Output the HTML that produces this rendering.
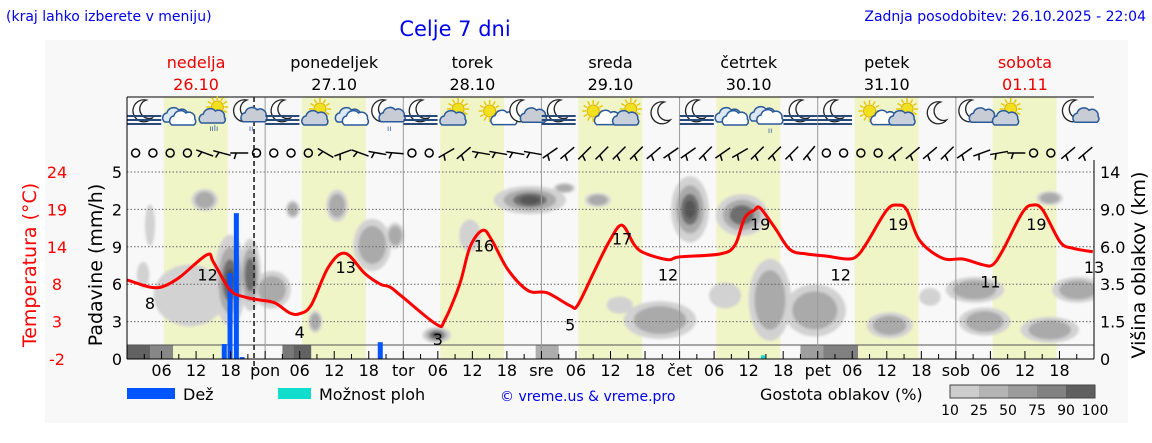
<!DOCTYPE html>
<html><head><meta charset="utf-8">
<style>
body{margin:0;width:1152px;height:443px;background:#fff;overflow:hidden;font-family:"Liberation Sans","DejaVu Sans",sans-serif}
svg{display:block}
text{font-family:"DejaVu Sans","Liberation Sans",sans-serif}
</style></head><body>
<svg id="c" width="1152" height="443" xmlns="http://www.w3.org/2000/svg">
<defs>
<filter id="bl" x="-50%" y="-50%" width="200%" height="200%"><feGaussianBlur stdDeviation="1.2"/></filter>
<clipPath id="pc"><rect x="127" y="160" width="967" height="185"/></clipPath>
<clipPath id="sc"><rect x="127" y="345" width="967" height="14"/></clipPath>
</defs>
<rect x="45" y="40" width="1083" height="383" fill="#f8f8f8"/>
<text x="6" y="21" font-size="14" fill="#0000ee">(kraj lahko izberete v meniju)</text>
<text x="455" y="36" font-size="21" fill="#0000ee" text-anchor="middle">Celje 7 dni</text>
<text x="1146" y="21" font-size="14" fill="#0000ee" text-anchor="end">Zadnja posodobitev: 26.10.2025 - 22:04</text>
<g id="bands"></g><g id="clouds" clip-path="url(#pc)" filter="url(#bl)"></g><g id="lowc" clip-path="url(#sc)"></g>
<g id="grid"></g><g id="icons"></g><g id="wind"></g><g id="bars"></g><g id="temp"></g><g id="axes"></g>
<text transform="translate(36,265) rotate(-90)" font-size="19" fill="#ff0000" text-anchor="middle">Temperatura (°C)</text>
<text transform="translate(102,265) rotate(-90)" font-size="19" fill="#000" text-anchor="middle">Padavine (mm/h)</text>
<text transform="translate(1145,265) rotate(-90)" font-size="19" fill="#000" text-anchor="middle">Višina oblakov (km)</text>
<g>
<rect x="127" y="388" width="48" height="11" fill="#0055ff"/>
<text x="183" y="400" font-size="16">Dež</text>
<rect x="278" y="388" width="33" height="11" fill="#11ddcc"/>
<text x="319" y="400" font-size="16">Možnost ploh</text>
<text x="500" y="401" font-size="14" fill="#0000ee">© vreme.us &amp; vreme.pro</text>
<text x="760" y="400" font-size="16">Gostota oblakov (%)</text>
<g id="dens"></g>
</g>
</svg>
<script>
const NS="http://www.w3.org/2000/svg";
const X0=127,X1=1094,HOURS=168;
const x=h=>X0+h*(X1-X0)/HOURS;
const yT=t=>359-(t+2)*187/26;
const yR=r=>359-r*37.4;
function el(tag,a,p){const e=document.createElementNS(NS,tag);for(const k in a)e.setAttribute(k,a[k]);(p||document.getElementById('c')).appendChild(e);return e;}
const G=id=>document.getElementById(id);

const dayNames=["nedelja","ponedeljek","torek","sreda","četrtek","petek","sobota"];
const dayDates=["26.10","27.10","28.10","29.10","30.10","31.10","01.11"];
const dayShort=["pon","tor","sre","čet","pet","sob"];
const sunrise=6.4,sunset=17.5;
const leftTicks=["5","2","9","6","3","0"];
const tempTicks=["24","19","14","8","3","-2"];
const rightTicks=["14","9.0","6.0","3.5","1.5","0"];
const tempHours=[0,4,6.3,9.2,13.9,15,17.9,20.5,23.1,25.7,28.3,30,32,35,37.9,41.3,44,45.7,47.9,53.8,55.2,57.8,59.6,61.8,63.4,66.2,69.7,73,77,78.3,81.3,83.9,86,88.2,90,94,96,103,105.6,107.3,109,110,112.6,115.2,118.1,121.6,125.1,126.8,128.5,132,133.9,135.5,137.7,141.7,145.2,148.7,150.4,152.2,155.6,157.4,159.1,162.1,164.3,167.8];
const tempVals=[9.0,8.0,8.1,9.4,12.5,11.5,7.6,6.6,6.2,5.8,4.4,4.3,5.5,10.8,12.7,9.9,8.4,8.0,6.6,2.8,3.4,8.4,13.6,15.9,14.5,10.4,7.5,7.2,5.4,5.5,10.4,14.5,16.6,13.8,12.7,11.8,12.2,12.6,13.8,17.6,18.7,19.0,16.2,13.2,12.6,12.3,11.9,12.3,14.1,18.7,19.4,18.7,14.5,12.0,11.9,11.1,11.1,13.2,18.4,19.4,18.7,14.3,13.4,12.9];
const lblHours=[4,14,30,38,54,62,77,86,94,110,124,134,150,158,168];
const lblVals=[8,12,4,13,3,16,5,17,12,19,12,19,11,19,13];
const rainHours=[16.9,17.9,19.0,20.0,44.0];
const rainVals=[0.4,2.3,3.9,0.05,0.45];
const showerHours=[110.5];
const showerVals=[0.1];
// cloud blobs: hour, height-slot, half-width (h), half-height (slots), density 0..1
const cloudH=[2.8,4.0,13.5,10.9,17.9,21.4,25.2,28.8,36.5,42.6,32.7,53.8,46.6,59.6,70,76,81.8,97.8,106.8,92.6,85.6,111.7,103.9,119.5,132.5,147.3,149,160.3,165.2,160.3,139.5];
const cloudS=[2.25,3.58,4.25,1.7,2.1,2.25,1.85,4.0,4.1,3.05,1.0,0.64,3.3,3.3,4.25,4.57,4.25,4.0,3.85,1.04,1.44,1.58,1.7,1.3,0.9,1.85,1.0,0.78,1.85,4.3,1.66];
const cloudW=[0.9,0.7,2.1,6.1,2.6,1.7,3.1,1.0,1.7,3.1,1.0,2.3,1.4,1.7,6.1,1.7,2.1,3.1,4.3,6.1,2.1,3.5,2.6,5.2,3.8,4.9,4.3,4.9,4.3,2.1,1.7];
const cloudHt=[0.32,0.53,0.27,0.8,1.2,0.94,0.48,0.21,0.4,0.67,0.27,0.19,0.32,0.4,0.35,0.11,0.16,0.86,0.53,0.48,0.2,1.07,0.32,0.67,0.32,0.32,0.35,0.32,0.32,0.16,0.21];
const cloudD=[0.3,0.35,0.5,0.35,0.85,0.75,0.4,0.5,0.5,0.6,0.45,0.85,0.5,0.3,0.8,0.4,0.45,0.8,0.75,0.45,0.3,0.5,0.35,0.45,0.45,0.55,0.45,0.45,0.55,0.5,0.3];
const lowH=[0,4,27,29,71,117,121];
const lowW=[4,4,3,3,4,6,6];
const lowD=[0.85,0.6,0.7,0.85,0.35,0.45,0.65];
const iconType=["fm","c","sr","mr","fm","sc","c","mr","fm","sc","s","mc","fm","s","sc","m","fm","c","cr","fm","fm","s","sc","m","mc","sc","n","mc"];
const windAng=[null,null,null,null,20,15,0,null,null,null,null,30,-20,20,10,5,null,null,-30,-40,10,10,10,10,-35,-40,-45,-45,-45,-45,-40,-35,-35,-45,-35,-30,-45,-45,-45,-50,null,null,null,null,-40,-40,-40,-45,-35,-20,-10,0,null,null,-40,-40];

for(let d=0;d<7;d++){
 const r=el('rect',{x:x(d*24+sunrise),y:97,width:x(sunset)-x(sunrise),height:262,fill:"#f0f5c8"},G('bands'));
 
 const cx=x(d*24+12);
 const t=el('text',{x:cx,y:68,"font-size":16,"text-anchor":"middle",fill:(d==0||d==6)?"#ee0000":"#000"});t.textContent=dayNames[d];
 
 const t2=el('text',{x:cx,y:90,"font-size":16,"text-anchor":"middle",fill:(d==0||d==6)?"#ee0000":"#000"});t2.textContent=dayDates[d];
 
}
// clouds (layered contours)
const hp=(X1-X0)/HOURS;
const layers=[[1.0,0,"#d2d2d2"],[0.72,0.4,"#aaaaaa"],[0.45,0.65,"#6e6e6e"],[0.25,0.8,"#555555"]];
layers.forEach(L=>{cloudH.forEach((h,i)=>{if(cloudD[i]<L[1])return;
 const e=el('ellipse',{cx:x(h),cy:yR(cloudS[i]),rx:cloudW[i]*hp*L[0]+1,ry:cloudHt[i]*37.4*L[0]+1,fill:L[2]},G('clouds'));
 });});
lowH.forEach((h,i)=>{const v=Math.round(225-lowD[i]*150);const e=el('rect',{x:x(h),y:345,width:lowW[i]*hp,height:14,fill:`rgb(${v},${v},${v})`},G('lowc'));
 });
const gg=G('grid');
for(let i=0;i<5;i++){const e=el('line',{x1:X0,x2:X1,y1:172+i*37.4,y2:172+i*37.4,stroke:"#666","stroke-dasharray":"1.5,2","stroke-width":1},gg);}
el('line',{x1:X0,x2:X1,y1:345,y2:345,stroke:"#555"},gg);
for(let d=1;d<7;d++){const e=el('line',{x1:x(d*24),x2:x(d*24),y1:97,y2:359,stroke:"#999"},gg);}
el('line',{x1:X0,x2:X1,y1:97,y2:97,stroke:"#000"},gg);
el('line',{x1:x(22.07),x2:x(22.07),y1:97,y2:370,stroke:"#222","stroke-width":1.6,"stroke-dasharray":"5,3"},gg);
const ax=G('axes');
el('line',{x1:X0,x2:X0,y1:97,y2:359,stroke:"#000"},ax);
el('line',{x1:X1,x2:X1,y1:160,y2:359,stroke:"#000"},ax);
el('line',{x1:X0,x2:X1,y1:359,y2:359,stroke:"#000"},ax);
for(let i=0;i<6;i++){const y=172+i*37.4;
 let t=el('text',{x:122,y:y+6,"font-size":16,"text-anchor":"end"},ax);t.textContent=leftTicks[i];
 t=el('text',{x:57,y:y+6,"font-size":16,"text-anchor":"middle",fill:"#ff0000"},ax);t.textContent=tempTicks[i];
 t=el('text',{x:1100,y:y+6,"font-size":16},ax);t.textContent=rightTicks[i];}
for(let h=3;h<168;h+=3){el('line',{x1:x(h),x2:x(h),y1:359,y2:h%6?354:351,stroke:"#000"},ax);}
for(let d=0;d<7;d++){["06","12","18"].forEach((s,k)=>{const t=el('text',{x:x(d*24+6+6*k),y:376,"font-size":16,"text-anchor":"middle"},ax);t.textContent=s;});
 if(d>0){const t=el('text',{x:x(d*24),y:376,"font-size":16,"text-anchor":"middle"},ax);t.textContent=dayShort[d-1];}}
rainHours.forEach((h,i)=>{const top=359-rainVals[i]*37.4;const e=el('rect',{x:x(h)-2.5,y:top,width:5,height:359-top,fill:"#0055ff"},G('bars'));});
showerHours.forEach((h,i)=>{const top=359-showerVals[i]*37.4;const e=el('rect',{x:x(h)-2,y:top,width:4,height:359-top,fill:"#11ddcc"},G('bars'));});
// smooth temp line (Catmull-Rom)
const P=tempHours.map((h,i)=>[x(h),yT(tempVals[i])]);
let d="M"+P[0][0]+","+P[0][1];
for(let i=0;i<P.length-1;i++){const p0=P[Math.max(0,i-1)],p1=P[i],p2=P[i+1],p3=P[Math.min(P.length-1,i+2)];
 const c1=[p1[0]+(p2[0]-p0[0])/6,p1[1]+(p2[1]-p0[1])/6],c2=[p2[0]-(p3[0]-p1[0])/6,p2[1]-(p3[1]-p1[1])/6];
 d+=`C${c1[0].toFixed(1)},${c1[1].toFixed(1)} ${c2[0].toFixed(1)},${c2[1].toFixed(1)} ${p2[0].toFixed(1)},${p2[1].toFixed(1)}`;}
const tl=el('path',{d,fill:"none",stroke:"#ff0000","stroke-width":3,"stroke-linejoin":"round"},G('temp'));
lblHours.forEach((h,i)=>{const t=el('text',{x:Math.min(x(h),1094),y:yT(lblVals[i])+22,"font-size":16,"text-anchor":"middle"},G('temp'));t.textContent=lblVals[i];});
const ig=G('icons');
function cloud(cx,cy,s,fill){el('path',{d:`M${cx-11*s},${cy+6*s} a5 5 0 0 1 2,-9 a7 7 0 0 1 12,-3 a6 6 0 0 1 9,6 a4 4 0 0 1 -1,6 z`,fill,stroke:"#2a5a9a","stroke-width":1.5},ig);}
function sun(cx,cy){for(let a=0;a<360;a+=30){const r=a*Math.PI/180;el('line',{x1:cx+7*Math.cos(r),y1:cy+7*Math.sin(r),x2:cx+11*Math.cos(r),y2:cy+11*Math.sin(r),stroke:"#e8c800","stroke-width":1.5},ig);}el('circle',{cx,cy,r:6,fill:"#f0e020",stroke:"#e0b000"},ig);}
function moon(cx,cy){el('path',{d:`M${cx+2},${cy-11} a11 11 0 1 0 6,18 a9 9 0 0 1 -6,-18z`,fill:"#fff",stroke:"#222","stroke-width":1.3},ig);}
iconType.forEach((t,i)=>{const cx=x(i*6+3),cy=113;
 if(t=="fm"){moon(cx,cy-2);for(let k=0;k<3;k++)el('line',{x1:cx-17,x2:cx+17,y1:cy+3+k*4,y2:cy+3+k*4,stroke:"#2a4a7a","stroke-width":2},ig);}
 else if(t=="c"){cloud(cx-3,cy+3,1,"#dde8f5");cloud(cx+4,cy+6,1,"#fff");}
 else if(t=="sc"){sun(cx+3,cy-4);cloud(cx-2,cy+6,1,"#c8d0dc");}
 else if(t=="s"){sun(cx,cy-2);cloud(cx+10,cy+8,0.6,"#fff");}
 else if(t=="sr"){sun(cx+4,cy-6);cloud(cx-1,cy+4,1,"#c8d0dc");el('text',{x:cx-4,y:cy+18,"font-size":8,fill:"#2a5a9a"},ig).textContent="ıılı";}
 else if(t=="cr"){cloud(cx-3,cy+2,1,"#dde8f5");cloud(cx+4,cy+5,1,"#fff");el('text',{x:cx+2,y:cy+20,"font-size":8,fill:"#2a5a9a"},ig).textContent="ıı";}
 else if(t=="mr"){moon(cx-3,cy-2);cloud(cx+4,cy+4,0.8,"#c8ccd4");el('text',{x:cx+1,y:cy+18,"font-size":8,fill:"#2a5a9a"},ig).textContent="ıı";}
 else if(t=="mc"){moon(cx-3,cy-2);cloud(cx+6,cy+5,0.7,"#c8ccd4");}
 else if(t=="m"){moon(cx,cy);}
});
const wg=G('wind');
windAng.forEach((a,i)=>{const cx=x(i*3+1.5),cy=153;
 if(a===null){const c=el('circle',{cx,cy,r:4,fill:"none",stroke:"#000","stroke-width":1.5},wg);return;}
 const g=el('g',{transform:`translate(${cx},${cy}) rotate(${a})`},wg);
 el('line',{x1:-9,x2:9,y1:0,y2:0,stroke:"#000","stroke-width":1.5},g);el('line',{x1:-3,x2:-5,y1:0,y2:6,stroke:"#000","stroke-width":1.5},g);});
const dl=G('dens');const dv=[210,185,160,135,100];const lbl=["10","25","50","75","90","100"];
dv.forEach((v,i)=>{el('rect',{x:950+i*29,y:385,width:29,height:13,fill:`rgb(${v-5},${v-5},${v-5})`},dl);});
el('rect',{x:950,y:385,width:145,height:13,fill:"none",stroke:"#444"},dl);
lbl.forEach((s,i)=>{const t=el('text',{x:950+i*29,y:415,"font-size":14,"text-anchor":"middle"},dl);t.textContent=s;});
</script>
</body></html>
